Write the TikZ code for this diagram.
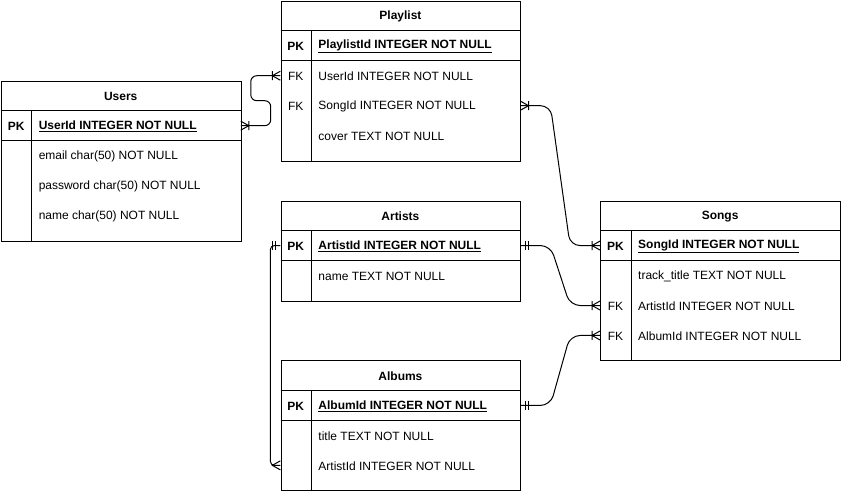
\documentclass[tikz,border=0pt]{standalone}
\usepackage{fontspec}
\setmainfont{Liberation Sans}
\usetikzlibrary{calc}
\begin{document}
\begin{tikzpicture}[x=1pt,y=-1pt,
  every node/.style={font=\fontsize{12}{14}\selectfont},
  tbl/.style={draw=black,line width=1pt,minimum width=240pt,inner sep=0pt,fill=white},
  rowbox/.style={minimum width=240pt,minimum height=30pt,inner sep=0pt},
  ttl/.style={font=\fontsize{12}{14}\selectfont\bfseries,inner sep=0pt},
  keytext/.style={inner sep=0pt,yshift=-0.8pt},
  fieldtext/.style={inner sep=0pt,anchor=west,yshift=-0.8pt},
  sep/.style={line width=1pt},
  conn/.style={line width=1pt},
  crowbar/.pic={\draw[line width=1pt] (0,4.5) -- (-8,0) -- (0,-4.5) (-8,4.5) -- (-8,-4.5);},
  crowonly/.pic={\draw[line width=1pt] (0,4.5) -- (-8,0) -- (0,-4.5);},
  dblbar/.pic={\draw[line width=1pt] (-5,4.5) -- (-5,-4.5) (-8,4.5) -- (-8,-4.5);}
]
\useasboundingbox (-0.8,-0.8) rectangle (841,491);

\newcommand\tblrow[4]{%
  \node[rowbox] (#1) at (#2) {};
  \node[keytext] (#1-k) at ([xshift=15.5pt]#1.west) {#3};
  \node[fieldtext] (#1-f) at ([xshift=38pt]#1.west) {#4};
}
\newcommand\tblframe[5]{% name, left, top, height, title
  \node[tbl,minimum height=#4pt,anchor=north west] (#1) at (#2,#3) {};
  \node[ttl,yshift=-0.8pt] (#1-t) at ($(#2,#3)+(120,15)$) {#5};
  \draw[sep] ($(#2,#3)+(0,30)$) -- ++(240,0);
  \draw[sep] ($(#2,#3)+(0,60)$) -- ++(240,0);
  \draw[sep] ($(#2,#3)+(31,30)$) -- ($(#2,#3)+(31,#4)$);
}

% ---------- Users ----------
\tblframe{users}{0}{80}{160}{Users}
\tblrow{usersPK}{120,125}{\textbf{PK}}{\textbf{\underline{UserId INTEGER NOT NULL}}}
\tblrow{usersEmail}{120,155}{}{email char(50) NOT NULL}
\tblrow{usersPass}{120,185}{}{password char(50) NOT NULL}
\tblrow{usersName}{120,215}{}{name char(50) NOT NULL}

% ---------- Playlist ----------
\tblframe{playlist}{280}{0}{160}{Playlist}
\tblrow{plPK}{400,45}{\textbf{PK}}{\textbf{\underline{PlaylistId INTEGER NOT NULL}}}
\tblrow{plUser}{400,75}{FK}{UserId INTEGER NOT NULL}
\tblrow{plSong}{400,105}{FK}{SongId INTEGER NOT NULL}
\tblrow{plCover}{400,135}{}{cover TEXT NOT NULL}

% ---------- Artists ----------
\tblframe{artists}{280}{200}{100}{Artists}
\tblrow{artistsPK}{400,245}{\textbf{PK}}{\textbf{\underline{ArtistId INTEGER NOT NULL}}}
\tblrow{artistsName}{400,275}{}{name TEXT NOT NULL}

% ---------- Albums ----------
\tblframe{albums}{280}{360}{130}{Albums}
\tblrow{albumsPK}{400,405}{\textbf{PK}}{\textbf{\underline{AlbumId INTEGER NOT NULL}}}
\tblrow{albumsTitle}{400,435}{}{title TEXT NOT NULL}
\tblrow{albumsArtist}{400,465}{}{ArtistId INTEGER NOT NULL}

% ---------- Songs ----------
\tblframe{songs}{600}{200}{160}{Songs}
\tblrow{songsPK}{720,245}{\textbf{PK}}{\textbf{\underline{SongId INTEGER NOT NULL}}}
\tblrow{songsTitle}{720,275}{}{track\_title TEXT NOT NULL}
\tblrow{songsArtist}{720,305}{FK}{ArtistId INTEGER NOT NULL}
\tblrow{songsAlbum}{720,335}{FK}{AlbumId INTEGER NOT NULL}

% ---------- Connectors ----------
\draw[conn,rounded corners=6pt] (usersPK.east) -- ++(30,0) -- ++(0,-25) -- ++(-20,0) |- (plUser.west);
\pic[xscale=-1] at (usersPK.east) {crowbar};
\pic at (plUser.west) {crowbar};

\draw[conn,rounded corners=10pt] (plSong.east) -- ++(30,0) -- ([xshift=-30pt]songsPK.west) -- (songsPK.west);
\pic[xscale=-1] at (plSong.east) {crowbar};
\pic at (songsPK.west) {crowbar};

\draw[conn,rounded corners=10pt] (artistsPK.east) -- ++(30,0) -- ([xshift=-30pt]songsArtist.west) -- (songsArtist.west);
\pic[xscale=-1] at (artistsPK.east) {dblbar};
\pic at (songsArtist.west) {crowbar};

\draw[conn,rounded corners=10pt] (albumsPK.east) -- ++(30,0) -- ([xshift=-30pt]songsAlbum.west) -- (songsAlbum.west);
\pic[xscale=-1] at (albumsPK.east) {dblbar};
\pic at (songsAlbum.west) {crowbar};

\draw[conn,rounded corners=4pt] (artistsPK.west) -- ++(-10,0) |- (albumsArtist.west);
\pic at (artistsPK.west) {dblbar};
\pic at (albumsArtist.west) {crowonly};
\end{tikzpicture}
\end{document}
